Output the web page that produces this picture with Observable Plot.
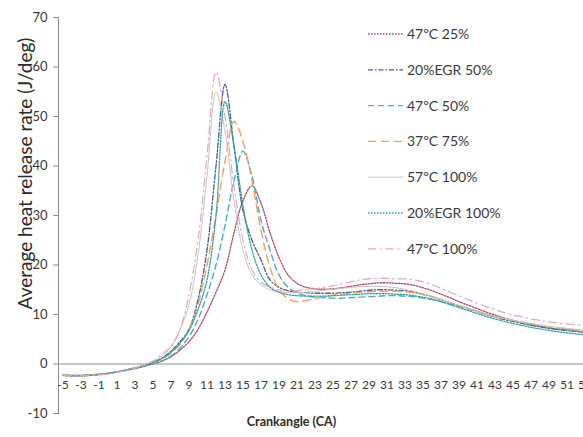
<!DOCTYPE html>
<html>
<head>
<meta charset="utf-8">
<script src="https://cdn.jsdelivr.net/npm/d3@7"></script>
<script src="https://cdn.jsdelivr.net/npm/@observablehq/plot@0.6"></script>
<style>
  html, body { margin: 0; padding: 0; background: #fff; overflow: hidden; }
  #chart { position: relative; width: 583px; height: 437px; }
</style>
</head>
<body>
<div id="chart"></div>
<script>
// Crank angle categories
const crank = d3.range(-5, 54);
const xTickLabels = d3.range(-5, 54, 2);
const yTicks = [-10, 0, 10, 20, 30, 40, 50, 60, 70];

const seriesNames = ["47ºC 25%", "20%EGR 50%", "47ºC 50%", "37ºC 75%", "57ºC 100%", "20%EGR 100%", "47ºC 100%"];
const seriesColors = ["#b0475a", "#4a5d8e", "#4bacc6", "#f5a05a", "#c4c4c4", "#2f9fa6", "#e2a9b2"];
const seriesDash = ["1.5,1.5", "5,2,1.5,2", "6,4", "8,5", null, "1.5,1.5", "8,4,1.5,4"];
const seriesWidth = [1.3, 1.3, 1.4, 1.4, 1, 1.3, 1.2];

// values for crank angle -5 ... 53
const hr47_25 = [-2.2,-2.3,-2.3,-2.2,-2.1,-1.9,-1.6,-1.3,-0.9,-0.5,0,0.6,1.5,2.8,4.5,7,10.5,14.5,19,26.5,33,36,32.5,26.5,21.5,18,16.3,15.5,15.2,15.1,15.2,15.4,15.7,16,16.2,16.4,16.4,16.3,16.2,15.9,15.4,14.8,14.1,13.4,12.6,11.9,11.2,10.5,9.9,9.3,8.8,8.4,8,7.6,7.3,7,6.8,6.6,6.4];
const egr20_50 = [-2.3,-2.4,-2.4,-2.3,-2.1,-1.9,-1.6,-1.2,-0.8,-0.3,0.3,1.2,2.6,4.5,7,13,23,40,56.5,44,31,25,21,17,15.5,14.8,14.5,14.4,14.3,14.3,14.3,14.4,14.5,14.7,14.9,15,15,14.9,14.8,14.5,14.1,13.6,13,12.4,11.8,11.2,10.6,10,9.5,9,8.6,8.2,7.8,7.5,7.2,7,6.8,6.6,6.4];
const hr47_50 = [-2.2,-2.3,-2.3,-2.2,-2.1,-1.9,-1.6,-1.3,-0.9,-0.4,0,0.6,1.6,3.2,5.5,9,14,20,28,37,43,38,29,23,18,15.5,14.3,13.8,13.5,13.4,13.3,13.3,13.4,13.5,13.6,13.7,13.8,13.8,13.7,13.6,13.3,13,12.6,12.1,11.6,11.1,10.6,10.1,9.6,9.2,8.8,8.4,8,7.7,7.4,7.1,6.9,6.7,6.5];
const hr37_75 = [-2.2,-2.3,-2.3,-2.2,-2.1,-1.9,-1.6,-1.2,-0.8,-0.3,0.2,1,2.2,4,7,12,20,30,41,49,45,37,27,19.5,15,13.2,12.6,12.8,13.2,13.6,13.9,14.1,14.3,14.5,14.6,14.7,14.7,14.7,14.6,14.4,14,13.5,13,12.4,11.8,11.2,10.7,10.1,9.6,9.2,8.8,8.4,8.1,7.8,7.5,7.3,7.1,6.9,6.7];
const hr57_100 = [-2.3,-2.4,-2.4,-2.3,-2.2,-2,-1.7,-1.3,-0.8,-0.2,0.5,1.6,3.5,7,12,22,38,55,47,33,23,18,16,15,14.6,14.4,14.4,14.5,14.7,14.9,15.1,15.3,15.5,15.6,15.7,15.7,15.6,15.4,15.1,14.7,14.2,13.6,13,12.4,11.8,11.2,10.6,10.1,9.6,9.2,8.8,8.5,8.2,7.9,7.6,7.4,7.2,7,6.8];
const egr20_100 = [-2.3,-2.4,-2.4,-2.3,-2.1,-1.9,-1.6,-1.2,-0.8,-0.3,0.3,1.1,2.4,4.2,6.8,11,17,30,53,44,32,23,18,15.5,14.5,14,13.8,13.7,13.7,13.7,13.8,13.9,14,14.1,14.2,14.2,14.2,14.1,14,13.8,13.5,13.1,12.6,12,11.4,10.8,10.2,9.6,9.1,8.6,8.2,7.8,7.4,7.1,6.8,6.5,6.3,6.1,5.9];
const hr47_100 = [-2.3,-2.4,-2.4,-2.3,-2.2,-2,-1.7,-1.3,-0.8,-0.2,0.6,2,3.5,7,14,25,42,59,50,36,25,19,16.5,15.5,15,14.8,14.8,15,15.2,15.5,15.8,16.2,16.6,17,17.2,17.3,17.3,17.2,17.2,17,16.6,16,15.3,14.5,13.8,13,12.3,11.6,11,10.4,9.9,9.5,9.1,8.8,8.5,8.3,8.1,7.9,7.8];

const seriesValues = [hr47_25, egr20_50, hr47_50, hr37_75, hr57_100, egr20_100, hr47_100];

const rows = [];
seriesNames.forEach((name, i) => {
  crank.forEach((c, j) => rows.push({series: name, idx: i, crank: c, value: seriesValues[i][j]}));
});

const FONT = "Lato, 'Open Sans', sans-serif";
const textColor = "#3a3a3a";
const axisColor = "#8c8c8c";

const lineMarks = seriesNames.map((name, i) =>
  Plot.line(rows.filter(r => r.idx === i), {
    x: "crank", y: "value",
    stroke: seriesColors[i],
    strokeWidth: seriesWidth[i],
    strokeDasharray: seriesDash[i] || undefined,
    curve: "catmull-rom"
  })
);

const plot = Plot.plot({
  width: 583,
  height: 437,
  marginLeft: 58,
  marginRight: 0,
  marginTop: 17,
  marginBottom: 24,
  style: {fontFamily: FONT, background: "#fff", overflow: "hidden"},
  x: {domain: [-5.5, 52.83], axis: null},
  y: {domain: [-10, 70], axis: null},
  marks: [
    Plot.ruleY([0], {stroke: axisColor, strokeWidth: 1}),
    Plot.frame({anchor: "left", stroke: axisColor}),
    Plot.axisY({ticks: yTicks, tickSize: 5, tickPadding: 6, fontSize: 13, color: textColor, stroke: axisColor, label: null, tickFormat: d => String(d)}),
    ...lineMarks,
    Plot.text(xTickLabels, {x: d => d, y: 0, dy: 21, text: d => String(d), fontSize: 12, fill: textColor}),
    Plot.text(["Average heat release rate (J/deg)"], {frameAnchor: "top-left", dx: -40, dy: 156, rotate: -90, textAnchor: "middle", fontSize: 19, fill: "#2b2b2b"}),
    Plot.text(["Crankangle (CA)"], {frameAnchor: "bottom", dx: -29.5, dy: 12, fontSize: 12.5, fontWeight: "bold", fill: "#2b2b2b"})
  ]
});

document.getElementById("chart").appendChild(plot);

// legend drawn inside the chart area
const svg = d3.select(plot);
const lg = svg.append("g").attr("font-family", FONT).attr("font-size", 14)
  .attr("fill", textColor).attr("text-anchor", "start");
seriesNames.forEach((name, i) => {
  const yy = 34 + i * 35.8;
  lg.append("line").attr("x1", 368).attr("x2", 403).attr("y1", yy).attr("y2", yy)
    .attr("stroke", seriesColors[i]).attr("stroke-width", seriesWidth[i])
    .attr("stroke-dasharray", seriesDash[i]);
  lg.append("text").attr("x", 407).attr("y", yy).attr("dy", "0.35em").text(name);
});
</script>
</body>
</html>
